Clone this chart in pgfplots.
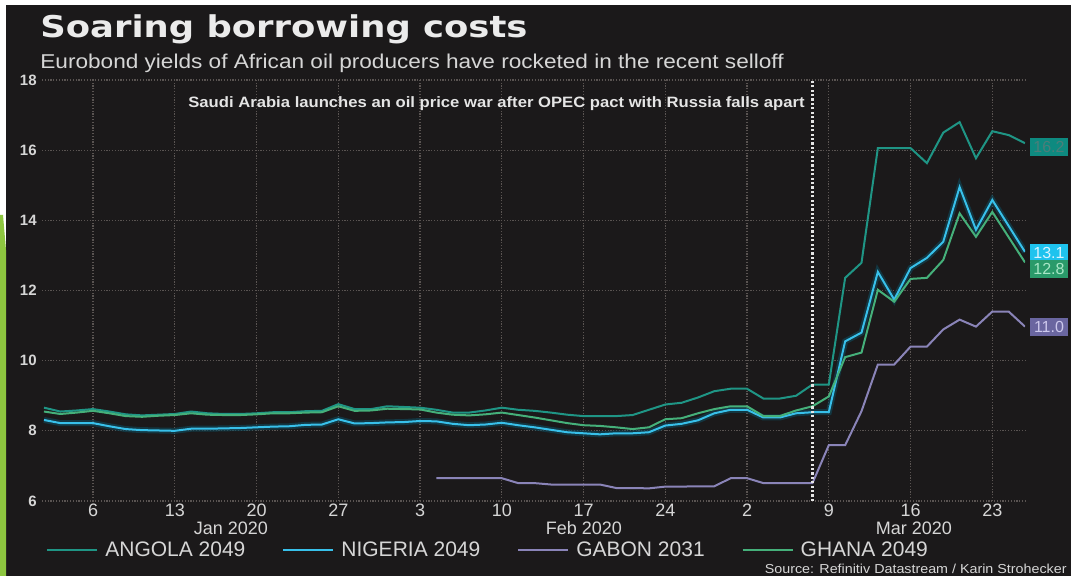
\documentclass[border=0pt]{standalone}
\usepackage{fontspec}
\setmainfont{Liberation Sans}
\newfontfamily\titlefont{DejaVu Sans}
\usepackage{pgfplots}
\usepackage{pgfplotstable}
\pgfplotsset{compat=1.18}

\definecolor{panel}{HTML}{1B191A}
\definecolor{lime}{HTML}{8DC63F}
\definecolor{textc}{HTML}{D6D6D6}
\definecolor{gridc}{HTML}{5A5452}
\definecolor{angola}{HTML}{1F9585}
\definecolor{nigeria}{HTML}{38C0EA}
\definecolor{nigglow}{HTML}{0E4A5C}
\definecolor{gabon}{HTML}{8A84B8}
\definecolor{ghana}{HTML}{45B07A}
\definecolor{angbox}{HTML}{0E8A80}
\definecolor{angtxt}{HTML}{4B7E7A}
\definecolor{nigbox}{HTML}{1EC3EE}
\definecolor{nigtxt}{HTML}{D8F3FF}
\definecolor{ghabox}{HTML}{2A9A6A}
\definecolor{ghatxt}{HTML}{A8E6C6}
\definecolor{gabbox}{HTML}{6A66A0}
\definecolor{gabtxt}{HTML}{CCC8EC}

% business-day index: 0 = Mon 6 Jan 2020, 57 = Wed 25 Mar 2020
\pgfplotstableread{
i ang nig gha
-3 8.66 8.31 8.55
-2 8.55 8.22 8.48
-1 8.58 8.22 8.52
0 8.62 8.22 8.57
1 8.55 8.13 8.50
2 8.47 8.05 8.42
3 8.44 8.02 8.40
4 8.46 8.01 8.43
5 8.48 8.00 8.45
6 8.55 8.06 8.50
7 8.50 8.06 8.46
8 8.48 8.07 8.45
9 8.48 8.08 8.45
10 8.50 8.10 8.47
11 8.53 8.12 8.50
12 8.53 8.13 8.50
13 8.56 8.17 8.52
14 8.57 8.18 8.53
15 8.76 8.33 8.70
16 8.62 8.21 8.57
17 8.62 8.22 8.58
18 8.70 8.24 8.63
19 8.68 8.25 8.62
20 8.66 8.28 8.61
21 8.60 8.27 8.52
22 8.52 8.20 8.46
23 8.52 8.16 8.44
24 8.58 8.18 8.47
25 8.66 8.23 8.52
26 8.60 8.16 8.45
27 8.57 8.10 8.38
28 8.52 8.03 8.30
29 8.46 7.96 8.22
30 8.42 7.93 8.16
31 8.42 7.90 8.14
32 8.42 7.93 8.10
33 8.45 7.93 8.05
34 8.60 7.96 8.10
35 8.75 8.15 8.33
36 8.80 8.20 8.36
37 8.95 8.30 8.50
38 9.13 8.50 8.62
39 9.20 8.60 8.70
40 9.20 8.60 8.70
41 8.92 8.38 8.42
42 8.92 8.38 8.42
43 9.00 8.50 8.58
44 9.32 8.53 8.70
45 9.32 8.53 8.98
46 12.36 10.55 10.10
47 12.79 10.80 10.23
48 16.06 12.53 12.02
49 16.06 11.74 11.68
50 16.06 12.64 12.33
51 15.63 12.93 12.36
52 16.50 13.39 12.87
53 16.80 14.95 14.20
54 15.77 13.73 13.53
55 16.54 14.58 14.24
56 16.43 13.84 13.52
57 16.20 13.10 12.80
}\rates

\pgfplotstableread{
i gab
21 6.65
22 6.65
23 6.65
24 6.65
25 6.65
26 6.51
27 6.51
28 6.47
29 6.47
30 6.47
31 6.47
32 6.37
33 6.37
34 6.36
35 6.41
36 6.41
37 6.42
38 6.42
39 6.65
40 6.65
41 6.51
42 6.51
43 6.51
44 6.51
45 7.59
46 7.59
47 8.56
48 9.89
49 9.89
50 10.40
51 10.40
52 10.89
53 11.17
54 10.97
55 11.40
56 11.40
57 10.97
}\gabon

\begin{document}
\begin{tikzpicture}
% page = 1071 x 576 px, 1 px = 0.5pt, y downwards in the scope
\begin{scope}[x=0.5pt,y=-0.5pt]
  \fill[white] (0,0) rectangle (1071,576);
  \fill[panel] (6,5) rectangle (1071,576);
  \fill[lime] (0,215) -- (3,215) -- (6,250) -- (6,576) -- (0,576) -- cycle;
  \node[anchor=base west, inner sep=0pt, text=white!92!black,
        font=\titlefont\bfseries\fontsize{15}{16}\selectfont] at (40,38)
        {\scalebox{1.18}[1]{Soaring borrowing costs}};
  \node[anchor=base west, inner sep=0pt, text=textc,
        font=\fontsize{10}{12}\selectfont] at (40,69)
        {\scalebox{1.13}[1]{Eurobond yields of African oil producers have rocketed in the recent selloff}};
\end{scope}

\begin{axis}[
  at={(21pt,-250.5pt)}, anchor=south west,
  scale only axis, width=491.5pt, height=210.5pt,
  xmin=-3.12, xmax=57, ymin=6, ymax=18,
  axis line style={draw=none},
  major tick length=0pt,
  xtick={0,5,...,55},
  xticklabels={6,13,20,27,3,10,17,24,2,9,16,23},
  ytick={6,8,...,18},
  grid=major,
  major grid style={gridc, line width=0.6pt, dash pattern=on 0.6pt off 0.8pt},
  tick label style={text=textc},
  xticklabel style={font=\fontsize{9}{10}\selectfont, inner sep=0pt, yshift=-1.5pt},
  yticklabel style={font=\fontsize{7.5}{9}\selectfont\bfseries, inner sep=0pt, xshift=-2.5pt},
  /pgf/number format/assume math mode=true,
  legend columns=4,
  legend style={at={(axis description cs:0.004,-0.117)}, anchor=west,
    draw=none, fill=none, text=textc, font=\fontsize{10.5}{12}\selectfont,
    inner sep=0pt, nodes={inner sep=0pt},
    /tikz/every odd column/.append style={column sep=3.5pt},
    /tikz/every even column/.append style={column sep=18.5pt}},
  legend image code/.code={\draw[#1] (0pt,0pt) -- (25pt,0pt);},
]
\addplot[angola, line width=1pt] table[x=i, y=ang] {\rates};
\addlegendentry{ANGOLA 2049}
\addplot[forget plot, nigglow, line width=3pt, opacity=0.6] table[x=i, y=nig] {\rates};
\addplot[nigeria, line width=1pt] table[x=i, y=nig] {\rates};
\addlegendentry{NIGERIA 2049}
\addplot[gabon, line width=1pt] table[x=i, y=gab] {\gabon};
\addlegendentry{GABON 2031}
\addplot[ghana, line width=1pt] table[x=i, y=gha] {\rates};
\addlegendentry{GHANA 2049}
\draw[white!90!black, line width=1.3pt, dash pattern=on 1.1pt off 1.1pt]
  (axis cs:44,6) -- (axis cs:44,18);
\end{axis}

\begin{scope}[x=0.5pt,y=-0.5pt]
  \node[anchor=east, inner sep=0pt, text=white!90!black,
        font=\fontsize{7.5}{9}\selectfont\bfseries] at (805,104)
        {\scalebox{1.11}[1]{Saudi Arabia launches an oil price war after OPEC pact with Russia falls apart}};
  \node[text=textc, font=\fontsize{9}{10}\selectfont] at (231,528) {Jan 2020};
  \node[text=textc, font=\fontsize{9}{10}\selectfont] at (584,528) {Feb 2020};
  \node[text=textc, font=\fontsize{9}{10}\selectfont] at (914,528) {Mar 2020};
  \node[anchor=east, inner sep=0pt, text=textc, font=\fontsize{6.5}{8}\selectfont]
        at (1067,569) {\scalebox{1.1}[1]{Source: Refinitiv Datastream / Karin Strohecker}};
  \tikzset{lab/.style={minimum width=19pt, minimum height=9pt, inner sep=0.5pt,
                       font=\fontsize{8}{9}\selectfont}}
  \node[lab, fill=angbox, text=angtxt] at (1049,147) {16.2};
  \node[lab, fill=nigbox, text=nigtxt] at (1049,253) {13.1};
  \node[lab, fill=ghabox, text=ghatxt] at (1049,269) {12.8};
  \node[lab, fill=gabbox, text=gabtxt] at (1049,327) {11.0};
\end{scope}
\end{tikzpicture}
\end{document}
